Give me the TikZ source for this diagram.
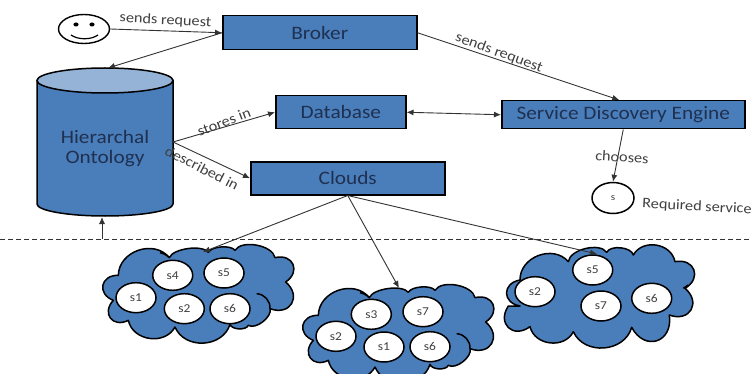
\documentclass[tikz,border=0pt]{standalone}
\usepackage{fontspec}
\setmainfont[FakeStretch=1.12]{Carlito}
\usetikzlibrary{arrows.meta,shapes.geometric}
\definecolor{boxblue}{HTML}{4A7EBB}
\definecolor{topblue}{HTML}{95B3D7}
\definecolor{boxtext}{HTML}{1F3050}
\definecolor{labeltext}{HTML}{404040}
\tikzset{
  bluebox/.style={draw=black,fill=boxblue,line width=1.5pt,text=boxtext,font=\fontsize{19}{20}\selectfont,inner sep=0pt,anchor=north west},
  svc/.style={ellipse,draw=black,fill=white,line width=1.5pt,minimum width=40pt,minimum height=30pt,inner sep=0pt,text=labeltext,font=\fontsize{12}{13}\selectfont},
  cloudshape/.style={draw=black,fill=boxblue,line width=1.5pt,line join=round},
  lbl/.style={text=labeltext,font=\fontsize{14.5}{16}\selectfont,inner sep=0pt},
  link/.style={draw=black!80,line width=0.9pt,-{Latex[length=7pt,width=6pt]}},
  bump/.style={bend left=70,looseness=1.15},
  flat/.style={bend left=70,looseness=.8},
  flatter/.style={bend left=60,looseness=.65},
  lobe/.style={bend left=80,looseness=1.8}
}
\newcommand{\cloudone}{(115,265) to[bump] (268,212) to[flatter] (385,196) to[flatter] (465,190) to[flat] (585,212) to[lobe] (617,285) to[lobe] (570,365) to[flat] (505,415) to[flat] (450,412) to[bump] (285,420) to[bump] (145,400) to[lobe] (100,340) to[lobe] cycle}
\begin{document}
\begin{tikzpicture}[x=1pt,y=-1pt]
\clip (0,0) rectangle (751,374);
\fill[white] (0,0) rectangle (751,374);
% boxes
\node[bluebox,minimum width=194pt,minimum height=34pt] (broker) at (222,15) {Broker};
\node[bluebox,minimum width=130pt,minimum height=33pt] (database) at (275,95) {Database};
\node[bluebox,minimum width=194pt,minimum height=33pt] (clouds) at (250,161) {Clouds};
\node[bluebox,minimum width=243pt,minimum height=28pt] (sde) at (501,100) {Service Discovery Engine};
% cylinder
\draw[draw=black,fill=boxblue,line width=1.5pt] (37,80.5) -- (37,204) arc[start angle=180,end angle=0,x radius=68,y radius=12] -- (173,80.5) -- cycle;
\draw[draw=black,fill=topblue,line width=1.5pt] (105,80.5) ellipse[x radius=68,y radius=12.5];
\node[text=boxtext,font=\fontsize{19}{20}\selectfont,align=center,inner sep=0pt] (onto) at (105,149) {Hierarchal\\Ontology};
\coordinate (ontotop) at (108,68);
\coordinate (ontoright) at (173,142);
\coordinate (ontobottom) at (102,217);
% smiley
\node[ellipse,draw=black,line width=1.4pt,minimum width=51pt,minimum height=29pt,inner sep=0pt] (smiley) at (84,29) {};
\fill[black] (76,24.5) ellipse[x radius=2.6,y radius=2];
\fill[black] (92,24.5) ellipse[x radius=2.6,y radius=2];
\draw[black,line width=1.2pt] (71,35) .. controls (78,40) and (91,40) .. (98,35);
% required service
\node[svc,minimum width=42pt,minimum height=31pt,font=\fontsize{10}{11}\selectfont] (sreq) at (613,198) {s};
% dashed line
\coordinate (dashl) at (0,239);
\coordinate (dashr) at (751,239);
\coordinate (dashup) at (102,239);
\draw[black!80,line width=0.8pt,dash pattern=on 5pt off 3pt] (dashl) -- (dashr);
% cloud 1
\begin{scope}[shift={(80,187)},scale=1/3]
\draw[cloudshape] \cloudone;
\draw[cloudshape,fill=none] (530,320) to[bend left=45] (570,365);
\draw[cloudshape,fill=none] (240,197) to[bend left=15] (268,212);
\end{scope}
% cloud 2
\begin{scope}[shift={(280,227)},scale=1/3]
\draw[cloudshape] \cloudone;
\draw[cloudshape,fill=none] (530,320) to[bend left=45] (570,365);
\draw[cloudshape,fill=none] (240,197) to[bend left=15] (268,212);
\end{scope}
% cloud 3
\begin{scope}[shift={(420,220)},scale=1/3]
\draw[cloudshape] (300,180) to[bump] (445,125) to[flat] (560,97) to[flat] (640,105) to[bump] (765,125) to[lobe] (795,205) to[lobe] (748,285) to[lobe] (635,322) to[bump] (460,335) to[bump] (330,320) to[lobe] (265,258) -- (300,258) to[lobe] cycle;
\draw[cloudshape,fill=none] (790,205) -- (805,195);
\end{scope}
% services
\node[svc] (a4) at (172.7,275.3) {s4};
\node[svc] (a5) at (224,273) {s5};
\node[svc] (a1) at (136,297.7) {s1};
\node[svc] (a2) at (184.3,308.7) {s2};
\node[svc] (a6) at (230,308.7) {s6};
\node[svc] (b3) at (371.3,314.3) {s3};
\node[svc] (b2) at (336,336.3) {s2};
\node[svc] (b1) at (384,347) {s1};
\node[svc] (b7) at (423,311.7) {s7};
\node[svc] (b6) at (430,346.7) {s6};
\node[svc] (c5) at (592.7,270) {s5};
\node[svc] (c2) at (535,291.7) {s2};
\node[svc] (c7) at (601,306) {s7};
\node[svc] (c6) at (651.7,298.3) {s6};
\coordinate (cl1) at (203,252);
\coordinate (cl2) at (399,288);
\coordinate (cl3) at (597,254);
% connectors
\draw[link] (smiley.east) -- (broker.west);
\draw[link] (broker.west) -- (ontotop);
\draw[link] (broker.east) -- ([xshift=-4pt]sde.north);
\draw[link,{Latex[length=7pt,width=6pt]}-{Latex[length=7pt,width=6pt]}] (database.east) -- (sde.west);
\draw[link] (ontoright) -- (database.west);
\draw[link] (ontoright) -- (clouds.west);
\draw[link] (clouds.south) -- (cl1);
\draw[link] (clouds.south) -- (cl2);
\draw[link] (clouds.south) -- (cl3);
\draw[link] (sde.south) -- (sreq.north);
\draw[link] (dashup) -- (ontobottom);
% labels
\node[lbl,rotate=-3] (l1) at (165.5,20.5) {sends request};
\node[lbl,rotate=-20] (l2) at (499,53) {sends request};
\node[lbl,rotate=21] (l3) at (224,122) {stores in};
\node[lbl,rotate=-27] (l4) at (202,168) {described in};
\node[lbl,rotate=-4] (l5) at (622,157) {chooses};
\node[lbl,rotate=-3] (l6) at (697,207) {Required service};
\end{tikzpicture}
\end{document}
